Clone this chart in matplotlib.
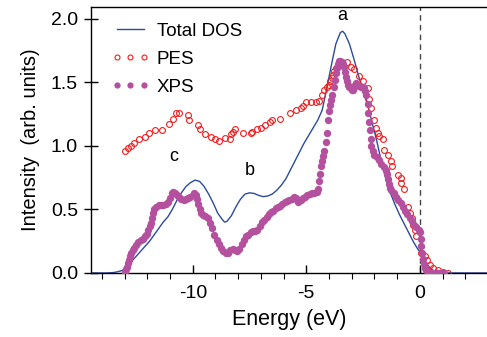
import matplotlib
matplotlib.use("Agg")
import matplotlib.pyplot as plt
from matplotlib.ticker import MultipleLocator

plt.rcParams['font.family'] = ['Liberation Sans', 'DejaVu Sans']
plt.rcParams['axes.unicode_minus'] = False

# Total DOS (theory)
dos_e = [-14.5, -13.8, -13.5, -13.3, -13.1, -12.9, -12.7, -12.5, -12.3, -12.1, -11.9, -11.7,
         -11.5, -11.3, -11.1, -10.9, -10.7, -10.5, -10.3, -10.1, -9.9, -9.7, -9.5, -9.3,
         -9.1, -8.9, -8.7, -8.6, -8.5, -8.3, -8.1, -7.9, -7.7, -7.5, -7.3, -7.1, -6.9,
         -6.7, -6.5, -6.3, -6.1, -5.9, -5.7, -5.5, -5.3, -5.1, -4.9, -4.7, -4.5, -4.3,
         -4.1, -3.9, -3.7, -3.5, -3.4, -3.3, -3.1, -2.9, -2.7, -2.5, -2.3, -2.1, -1.9,
         -1.7, -1.5, -1.3, -1.1, -0.9, -0.7, -0.5, -0.3, -0.1, 0.1, 0.3, 0.5, 0.7, 0.9,
         1.2, 3.0]
dos_i = [0, 0, 0.003, 0.01, 0.02, 0.05, 0.09, 0.13, 0.17, 0.21, 0.25, 0.30,
         0.35, 0.40, 0.44, 0.50, 0.57, 0.63, 0.68, 0.71, 0.73, 0.72, 0.68, 0.62,
         0.55, 0.47, 0.42, 0.40, 0.405, 0.45, 0.52, 0.58, 0.62, 0.63, 0.625, 0.61, 0.60,
         0.605, 0.62, 0.65, 0.69, 0.74, 0.81, 0.88, 0.95, 1.02, 1.08, 1.14, 1.20, 1.28,
         1.45, 1.63, 1.80, 1.89, 1.90, 1.88, 1.80, 1.68, 1.55, 1.43, 1.32, 1.18, 1.04,
         0.88, 0.74, 0.63, 0.54, 0.46, 0.39, 0.32, 0.25, 0.19, 0.14, 0.07, 0.03, 0.01, 0.002,
         0, 0]

# PES (open circles)
pes_e = [-13.0, -12.86, -12.71, -12.57, -12.35, -12.1, -11.94, -11.66, -11.37, -11.03,
         -10.85, -10.73, -10.59, -10.22, -10.15, -9.78, -9.66, -9.48, -9.18, -9.0, -8.85,
         -8.59, -8.38, -8.31, -8.24, -8.16, -7.8, -7.43, -7.37, -7.18, -6.99, -6.8, -6.62,
         -6.52, -6.18, -5.71, -5.45, -5.23, -5.15, -5.0, -4.78, -4.56, -4.42, -4.3, -4.2,
         -4.1, -4.01, -3.95, -3.89, -3.83, -3.76, -3.68, -3.54, -3.22, -3.02, -2.88, -2.66,
         -2.51, -2.29, -2.22, -2.14, -2.0, -1.92, -1.85, -1.78, -1.63, -1.56, -1.41, -1.26,
         -1.22, -0.97, -0.85, -0.82, -0.7, -0.53, -0.42, -0.34, -0.28, -0.23, -0.16, 0.06,
         0.21, 0.31, 0.43, 0.57, 0.79, 1.04, 1.23]
pes_i = [0.955, 0.98, 1.0, 1.02, 1.05, 1.07, 1.10, 1.12, 1.12, 1.17,
         1.21, 1.26, 1.26, 1.24, 1.20, 1.16, 1.13, 1.09, 1.07, 1.05, 1.04,
         1.06, 1.05, 1.09, 1.11, 1.13, 1.10, 1.10, 1.11, 1.13, 1.14, 1.16, 1.19,
         1.20, 1.21, 1.26, 1.28, 1.30, 1.31, 1.34, 1.34, 1.34, 1.35, 1.40, 1.44,
         1.46, 1.48, 1.51, 1.53, 1.56, 1.59, 1.61, 1.64, 1.66, 1.62, 1.60, 1.55,
         1.51, 1.45, 1.37, 1.30, 1.20, 1.14, 1.10, 1.08, 1.05, 0.97, 0.93, 0.88,
         0.84, 0.77, 0.75, 0.71, 0.66, 0.52, 0.47, 0.43, 0.38, 0.34, 0.29, 0.155,
         0.13, 0.10, 0.063, 0.037, 0.024, 0.01, 0.003]

# XPS (filled dots)
xps_e = [-13.0, -12.95, -12.9, -12.85, -12.8, -12.75, -12.7, -12.65, -12.6, -12.5, -12.4,
         -12.3, -12.2, -12.1, -12.0, -11.95, -11.9, -11.85, -11.8, -11.75, -11.7, -11.6,
         -11.5, -11.4, -11.3, -11.2, -11.1, -11.0, -10.9, -10.85, -10.8, -10.7, -10.6,
         -10.5, -10.4, -10.3, -10.2, -10.1, -10.0, -9.93, -9.85, -9.8, -9.75, -9.7, -9.65,
         -9.55, -9.45, -9.35, -9.25, -9.15, -9.05, -8.95, -8.85, -8.75, -8.65, -8.55,
         -8.45, -8.35, -8.25, -8.15, -8.05, -7.95, -7.85, -7.75, -7.65, -7.55, -7.45,
         -7.35, -7.25, -7.15, -7.05, -6.95, -6.85, -6.75, -6.65, -6.55, -6.45, -6.35,
         -6.25, -6.15, -6.05, -5.95, -5.85, -5.75, -5.65, -5.55, -5.45, -5.35, -5.25,
         -5.15, -5.05, -4.95, -4.85, -4.75, -4.65, -4.55, -4.48, -4.44, -4.4, -4.35,
         -4.3, -4.25, -4.2, -4.15, -4.1, -4.05, -4.0, -3.95, -3.9, -3.85, -3.8, -3.75,
         -3.7, -3.65, -3.6, -3.55, -3.5, -3.45, -3.4, -3.35, -3.3, -3.25, -3.2, -3.15,
         -3.1, -3.05, -3.0, -2.95, -2.9, -2.85, -2.8, -2.75, -2.7, -2.6, -2.5, -2.45,
         -2.4, -2.35, -2.3, -2.27, -2.24, -2.2, -2.17, -2.13, -2.08, -2.0, -1.9, -1.8,
         -1.7, -1.6, -1.5, -1.45, -1.4, -1.35, -1.3, -1.25, -1.15, -1.05, -0.95, -0.85,
         -0.75, -0.65, -0.55, -0.45, -0.35, -0.25, -0.15, -0.05, 0.0, 0.03, 0.06, 0.1,
         0.14, 0.18, 0.22, 0.28, 0.35, 0.45, 0.55, 0.65, 0.75, 0.85, 0.95, 1.05]
xps_i = [0.01, 0.03, 0.05, 0.075, 0.10, 0.13, 0.16, 0.18, 0.20, 0.22, 0.24,
         0.26, 0.27, 0.29, 0.31, 0.34, 0.37, 0.39, 0.43, 0.47, 0.50, 0.52,
         0.535, 0.535, 0.535, 0.54, 0.56, 0.59, 0.63, 0.64, 0.63, 0.61, 0.595,
         0.585, 0.575, 0.58, 0.59, 0.60, 0.615, 0.625, 0.61, 0.58, 0.54, 0.50, 0.47,
         0.455, 0.45, 0.43, 0.39, 0.35, 0.30, 0.26, 0.23, 0.20, 0.175, 0.155,
         0.16, 0.18, 0.19, 0.18, 0.17, 0.19, 0.23, 0.26, 0.29, 0.30, 0.32,
         0.33, 0.33, 0.34, 0.37, 0.40, 0.42, 0.44, 0.46, 0.48, 0.49, 0.51,
         0.52, 0.53, 0.54, 0.555, 0.565, 0.575, 0.585, 0.60, 0.59, 0.56, 0.57,
         0.59, 0.60, 0.61, 0.62, 0.625, 0.63, 0.64, 0.66, 0.72, 0.78, 0.84,
         0.88, 0.92, 0.96, 1.03, 1.10, 1.20, 1.27, 1.32, 1.36, 1.40, 1.46, 1.52,
         1.57, 1.61, 1.64, 1.665, 1.665, 1.66, 1.645, 1.62, 1.58, 1.54, 1.51, 1.48,
         1.46, 1.45, 1.44, 1.44, 1.46, 1.48, 1.49, 1.48, 1.47, 1.465, 1.46, 1.45,
         1.43, 1.40, 1.33, 1.26, 1.19, 1.12, 1.05, 1.0, 0.955, 0.93, 0.91, 0.885,
         0.86, 0.835, 0.81, 0.78, 0.74, 0.70, 0.67, 0.65, 0.625, 0.60, 0.575, 0.55,
         0.52, 0.49, 0.46, 0.43, 0.41, 0.38, 0.36, 0.34, 0.32, 0.27, 0.21, 0.16,
         0.11, 0.07, 0.04, 0.02, 0.008, 0.003, 0.0, 0.0, 0.0, 0.0, 0.0, 0.0]

fig = plt.figure(figsize=(4.87, 3.37), dpi=100)
ax = fig.add_axes([0.186, 0.19, 0.816, 0.789])

ax.axvline(0, color='#444444', lw=1, ls=(0, (4, 3)), zorder=1)
ax.plot(dos_e, dos_i, color='#2d4b9e', lw=1, label='Total DOS', zorder=2)
ax.plot(pes_e, pes_i, ls='none', marker='o', ms=4.2, mfc='none', mec='#f01e1e', mew=0.8,
        label='PES', zorder=3)
ax.plot(xps_e, xps_i, ls='none', marker='o', ms=5.3, mfc='#b4509e', mec='#b4509e', mew=0,
        label='XPS', zorder=4)

ax.text(-3.4, 1.96, 'a', fontsize=13, ha='center', va='bottom')
ax.text(-7.5, 0.74, 'b', fontsize=13, ha='center', va='bottom')
ax.text(-10.85, 0.85, 'c', fontsize=13, ha='center', va='bottom')

ax.set_xlim(-14.5, 3)
ax.set_ylim(0, 2.09)
ax.xaxis.set_major_locator(MultipleLocator(5))
ax.xaxis.set_minor_locator(MultipleLocator(1))
ax.set_yticks([0, 0.5, 1.0, 1.5, 2.0])
ax.set_yticklabels(['0.0', '0.5', '1.0', '1.5', '2.0'])
ax.tick_params(axis='x', which='major', direction='in', length=6, width=1, labelsize=14, pad=9)
ax.tick_params(axis='x', which='minor', direction='out', length=4, width=0.8)
ax.tick_params(axis='y', which='major', direction='inout', length=10, width=1, labelsize=14, pad=4)
ax.spines['right'].set_visible(False)
for s in ['left', 'bottom', 'top']:
    ax.spines[s].set_linewidth(1)

ax.set_xlabel('Energy (eV)', fontsize=15.5, labelpad=5)
ax.set_ylabel('Intensity  (arb. units)', fontsize=14.5, labelpad=8)

ax.legend(loc='upper left', frameon=False, fontsize=13.5, numpoints=3, handlelength=2.0,
          markerscale=0.85, handletextpad=0.4, labelspacing=0.58, borderaxespad=0.3,
          bbox_to_anchor=(0.02, 0.99))

fig.savefig('out.png', dpi=100)
